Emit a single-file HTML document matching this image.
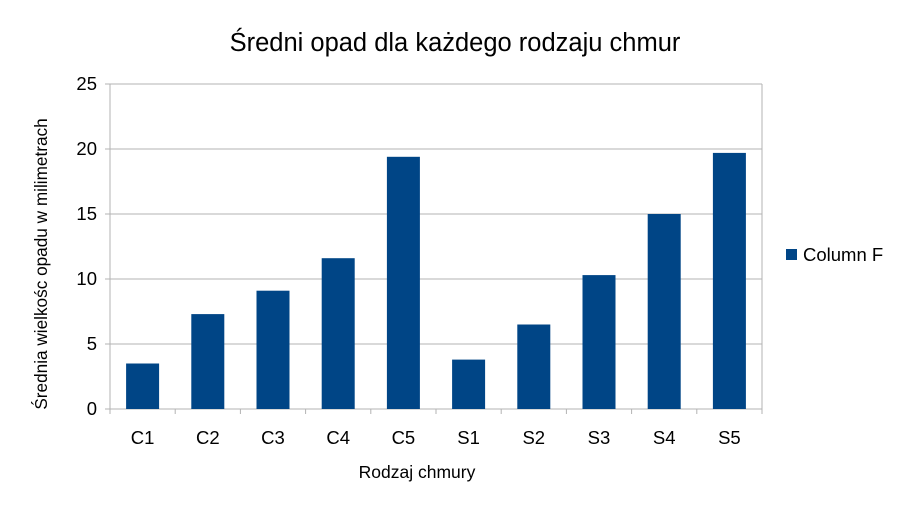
<!DOCTYPE html>
<html><head><meta charset="utf-8"><style>body{margin:0;background:#fff}svg{display:block;font-family:"Liberation Sans",sans-serif}</style></head>
<body>
<svg id="c" width="908" height="511">
<text x="455" y="51" font-size="25.5" text-anchor="middle" fill="#000">Średni opad dla każdego rodzaju chmur</text>
<text x="417" y="478" font-size="17.5" text-anchor="middle">Rodzaj chmury</text>
<text transform="translate(47,264) rotate(-90)" font-size="17.2" text-anchor="middle">Średnia wielkośc opadu w milimetrach</text>
<g id="grid"></g><g id="bars"></g><g id="axes"></g>
<rect x="786" y="249" width="11" height="11" fill="#004586"/>
<text x="803" y="261" font-size="18.5">Column F</text>
</svg>
<script>
const categories=["C1","C2","C3","C4","C5","S1","S2","S3","S4","S5"];
const values=[3.5,7.3,9.1,11.6,19.4,3.8,6.5,10.3,15.0,19.7];
const yTicks=[0,5,10,15,20,25];
const ns="http://www.w3.org/2000/svg";
const X0=110,X1=762,Y0=409,Y1=84,yMax=25;
const y=v=>Y0-(Y0-Y1)*v/yMax;
const bw=(X1-X0)/categories.length;
function mk(t,a,p){const e=document.createElementNS(ns,t);for(const k in a)e.setAttribute(k,a[k]);p.appendChild(e);return e;}
const g=document.getElementById('grid'),b=document.getElementById('bars'),ax=document.getElementById('axes');
yTicks.forEach(t=>{
 const l=mk('line',{x1:X0-5,x2:X1,y1:y(t),y2:y(t),stroke:'#b3b3b3','stroke-width':1},g);
 
 
 const tx=mk('text',{x:97,y:y(t)+6,'font-size':18.5,'text-anchor':'end'},g);tx.textContent=t;
 
 
});
mk('line',{x1:X0,x2:X0,y1:Y1,y2:Y0,stroke:'#b3b3b3'},ax);
mk('line',{x1:X1,x2:X1,y1:Y1,y2:Y0,stroke:'#b3b3b3'},ax);
categories.forEach((c,i)=>{
 const cx=X0+bw*(i+0.5);
 const r=mk('rect',{x:cx-16.5,y:y(values[i]),width:33,height:Y0-y(values[i]),fill:'#004586'},b);
 
 
 const t=mk('text',{x:cx,y:444,'font-size':18.5,'text-anchor':'middle'},ax);t.textContent=c;
 
 
 mk('line',{x1:X0+bw*i,x2:X0+bw*i,y1:Y0,y2:Y0+5,stroke:'#b3b3b3'},ax);
});
mk('line',{x1:X1,x2:X1,y1:Y0,y2:Y0+5,stroke:'#b3b3b3'},ax);
</script>
</body></html>
